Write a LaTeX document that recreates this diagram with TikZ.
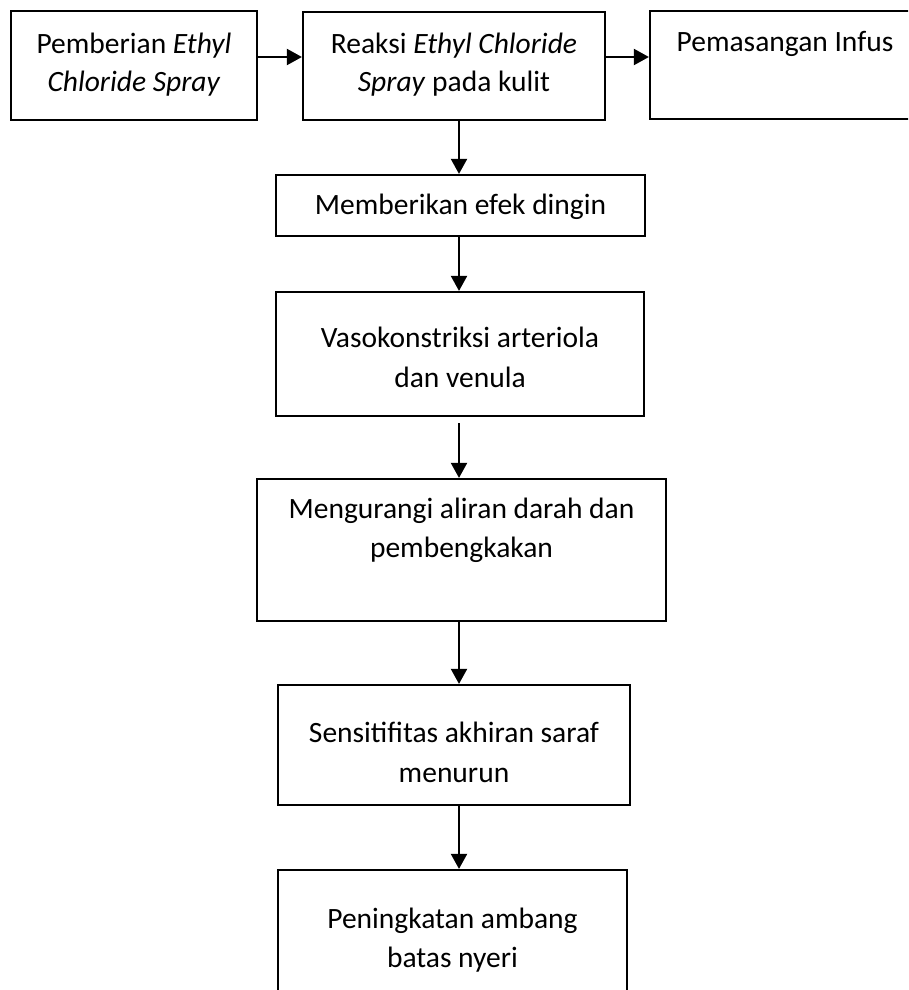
\documentclass[tikz,border=0pt]{standalone}
\usepackage{fontspec}
\setmainfont{Carlito}
\usetikzlibrary{arrows.meta}
\begin{document}
\begin{tikzpicture}[x=1pt,y=-1pt,
  box/.style={draw=black, line width=2.2pt, inner sep=0pt},
  txt/.style={anchor=base, inner sep=0pt, font=\fontsize{29.5}{39}\selectfont},
  arr/.style={line width=2pt, -{Triangle[length=15pt,width=16pt]}}]
\useasboundingbox (0,0) rectangle (908,990);
\clip (0,0) rectangle (908,990);
\fill[white] (0,0) rectangle (908,990);
% boxes
\node[box, minimum width=246pt, minimum height=109pt] (b1) at (134,65.5) {};
\node[box, minimum width=302pt, minimum height=108pt] (b2) at (454,66) {};
\node[box, minimum width=270pt, minimum height=108pt] (b3) at (785,65) {};
\node[box, minimum width=369pt, minimum height=61pt]  (b4) at (460.5,205.5) {};
\node[box, minimum width=368pt, minimum height=124pt] (b5) at (460,354) {};
\node[box, minimum width=409pt, minimum height=142pt] (b6) at (461.5,550) {};
\node[box, minimum width=352pt, minimum height=120pt] (b7) at (454,745) {};
\node[box, minimum width=349pt, minimum height=140pt] (b8) at (452.5,940) {};
% texts
\node[txt] (t1a) at (134,53) {Pemberian \textit{Ethyl}};
\node[txt] (t1b) at (134,91) {\textit{Chloride Spray}};
\node[txt] (t2a) at (454,53) {Reaksi \textit{Ethyl Chloride}};
\node[txt] (t2b) at (454,91) {\textit{Spray} pada kulit};
\node[txt] (t3a) at (785,52) {Pemasangan Infus};
\node[txt] (t4a) at (460.5,214) {Memberikan efek dingin};
\node[txt] (t5a) at (460,347) {Vasokonstriksi arteriola};
\node[txt] (t5b) at (460,387) {dan venula};
\node[txt] (t6a) at (461.5,518) {Mengurangi aliran darah dan};
\node[txt] (t6b) at (461.5,557) {pembengkakan};
\node[txt] (t7a) at (454,742) {Sensitifitas akhiran saraf};
\node[txt] (t7b) at (454,782) {menurun};
\node[txt] (t8a) at (452.5,928) {Peningkatan ambang};
\node[txt] (t8b) at (452.5,967) {batas nyeri};
% connectors
\coordinate (ay) at (0,57);
\coordinate (ax) at (459,0);
\coordinate (g5) at ([yshift=-6pt]b5.south);
\draw[arr] (b1.east |- ay) -- (b2.west |- ay);
\draw[arr] (b2.east |- ay) -- (b3.west |- ay);
\draw[arr] (b2.south -| ax) -- (b4.north -| ax);
\draw[arr] (b4.south -| ax) -- (b5.north -| ax);
\draw[arr] (g5 -| ax) -- (b6.north -| ax);
\draw[arr] (b6.south -| ax) -- (b7.north -| ax);
\draw[arr] (b7.south -| ax) -- (b8.north -| ax);
\end{tikzpicture}
\end{document}
